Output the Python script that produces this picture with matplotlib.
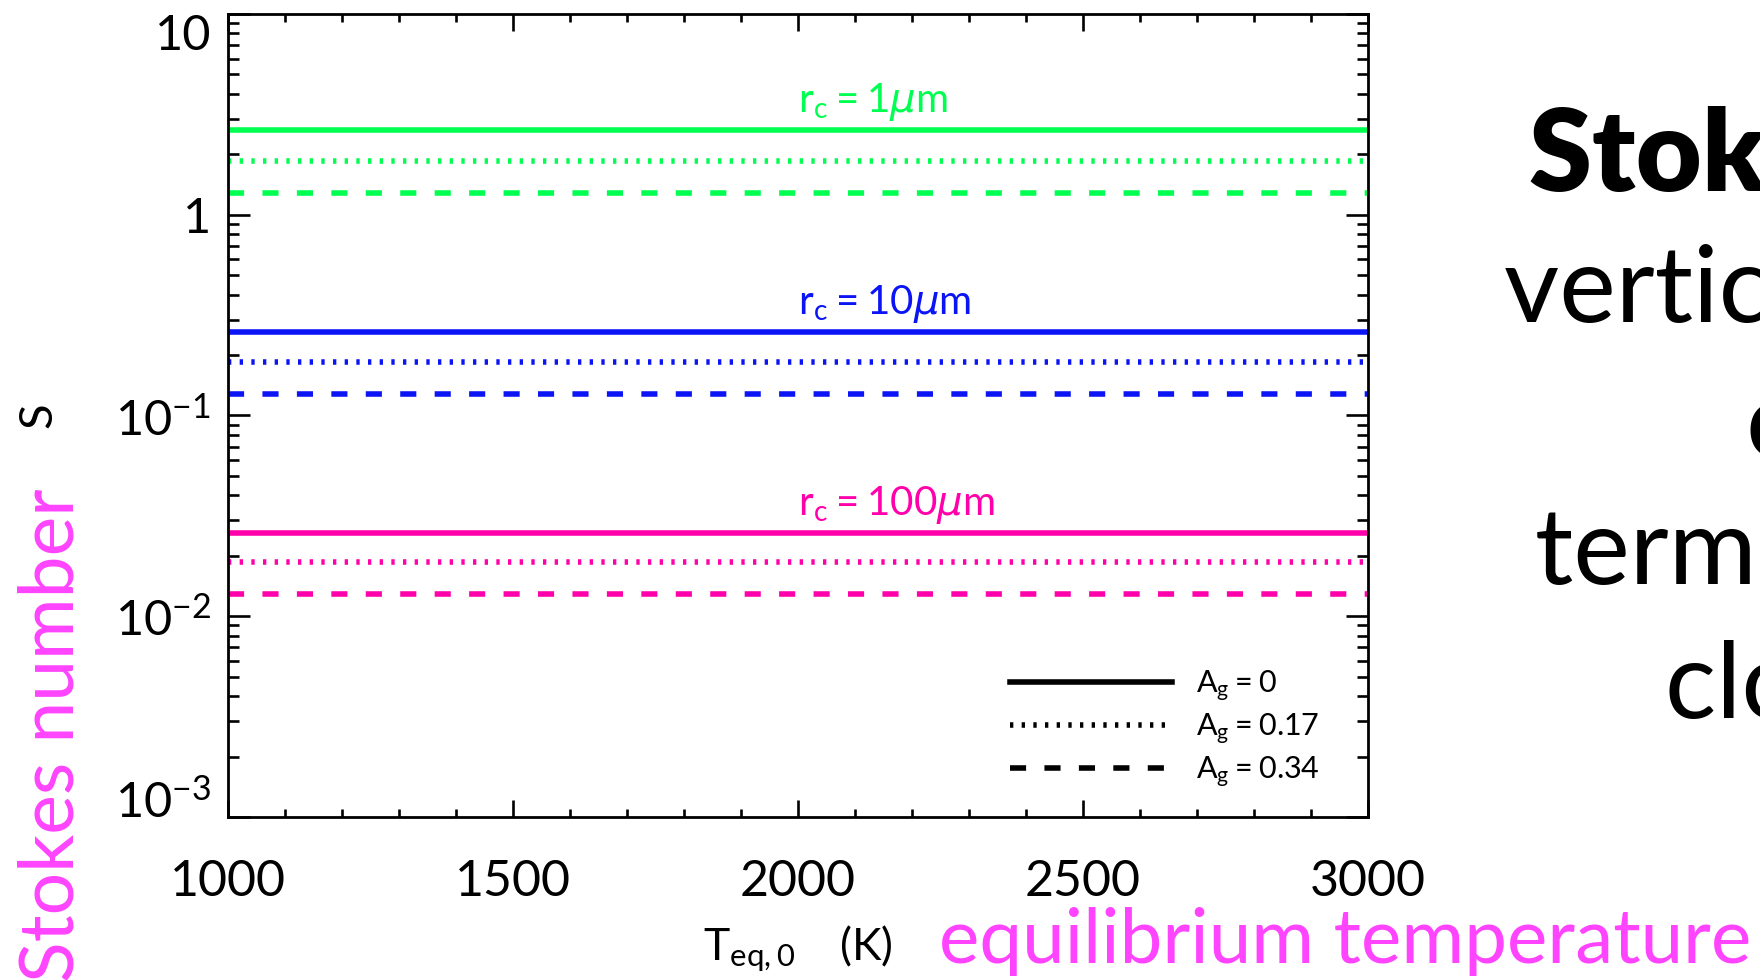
import numpy as np
import matplotlib
matplotlib.use("Agg")
import matplotlib.pyplot as plt
from matplotlib.lines import Line2D
from matplotlib.ticker import FixedLocator, MultipleLocator, LogLocator, NullFormatter

plt.rcParams['font.family'] = ['Lato', 'DejaVu Sans']
plt.rcParams['mathtext.fontset'] = 'custom'
plt.rcParams['mathtext.rm'] = 'Lato'
plt.rcParams['mathtext.it'] = 'DejaVu Sans:italic'
plt.rcParams['mathtext.bf'] = 'Lato:bold'

# data
T_eq = [1000, 3000]
albedo_labels = [r'$\mathregular{A_g=0}$', r'$\mathregular{A_g=0.17}$', r'$\mathregular{A_g=0.34}$']
radius_labels = [r'$\mathregular{r_c=1}\mathit{\mu}\mathregular{m}$',
                 r'$\mathregular{r_c=10}\mathit{\mu}\mathregular{m}$',
                 r'$\mathregular{r_c=100}\mathit{\mu}\mathregular{m}$']
S_1um = [2.64, 1.86, 1.29]
S_10um = [0.261, 0.185, 0.128]
S_100um = [0.0261, 0.0186, 0.0129]
xticks = [1000, 1500, 2000, 2500, 3000]
yticks = [1e-3, 1e-2, 1e-1, 1, 10]
ytick_labels = [r'$\mathregular{10^{-3}}$', r'$\mathregular{10^{-2}}$', r'$\mathregular{10^{-1}}$', '1', '10']
side_text = ['Stokes number', 'vertical mixing', 'of', 'terminal velocity', 'cloud particles']

colors = ['#00ff50', '#0a14f5', '#ff00aa']
styles = ['-', (0, (0.6, 1.5)), (0, (2.9, 3.3))]
lw = 4.0
W, H = 1760, 980

fig = plt.figure(figsize=(17.6, 9.8), dpi=100)
ax = fig.add_axes([228 / W, 1 - 817 / H, (1368 - 228) / W, (817 - 14) / H])

for S, c, lab in zip([S_1um, S_10um, S_100um], colors, radius_labels):
    for s, ls in zip(S, styles):
        ax.plot(T_eq, np.full(len(T_eq), s), color=c, lw=lw, ls=ls)
    ax.annotate(lab, xy=(2000, S[0]), xytext=(0, 13), textcoords='offset points',
                ha='left', va='baseline', color=c, fontsize=29)

ax.set_yscale('log')
ax.set_xlim(1000, 3000)
ax.set_ylim(1e-3, 10)
ax.xaxis.set_major_locator(FixedLocator(xticks))
ax.xaxis.set_minor_locator(MultipleLocator(100))
ax.set_xticklabels([str(t) for t in xticks])
ax.yaxis.set_major_locator(FixedLocator(yticks))
ax.yaxis.set_minor_locator(LogLocator(base=10, subs=np.arange(2, 10), numticks=20))
ax.yaxis.set_minor_formatter(NullFormatter())
ax.set_yticklabels(ytick_labels)

for sp in ax.spines.values():
    sp.set_linewidth(2.0)
ax.tick_params(which='both', direction='in', top=True, right=True, width=1.9, colors='black')
ax.tick_params(axis='x', which='major', length=12, pad=30, labelsize=36)
ax.tick_params(axis='x', which='minor', length=6)
ax.tick_params(axis='y', which='major', length=16, pad=12, labelsize=35)
ax.tick_params(axis='y', which='minor', length=8)

ylabs = ax.get_yticklabels()
ylabs[0].set_va('baseline')
ylabs[-1].set_va('top')

ax.set_xlabel(r'$\mathregular{T_{eq,0}\ \ \ (K)}$', fontsize=32, labelpad=14)
ax.set_ylabel('S', fontsize=34, labelpad=40)

handles = [Line2D([], [], color='black', lw=lw, ls=ls) for ls in styles]
ax.legend(handles, albedo_labels, loc='center left', bbox_to_anchor=(1010 / W, 1 - 729 / H),
          bbox_transform=fig.transFigure, frameon=False, fontsize=22, handlelength=5.3,
          handletextpad=0.8, labelspacing=0.25, borderpad=0, borderaxespad=0)

fig.text(73 / W, 1 - 982 / H, 'Stokes number', rotation=90, rotation_mode='anchor',
         ha='left', va='baseline', color='#ff44ff', fontsize=54)
fig.text(939 / W, 1 - 963 / H, 'equilibrium temperature', ha='left', va='baseline',
         color='#ff44ff', fontsize=55)

fig.text(1529 / W, 1 - 191 / H, side_text[0], ha='left', va='baseline', fontsize=82,
         fontweight='heavy')
for txt, x, y in zip(side_text[1:], [1504, 1745, 1535, 1665], [322, 457, 584, 718]):
    fig.text(x / W, 1 - y / H, txt, ha='left', va='baseline', fontsize=77)

fig.savefig('out.png', dpi=100)
